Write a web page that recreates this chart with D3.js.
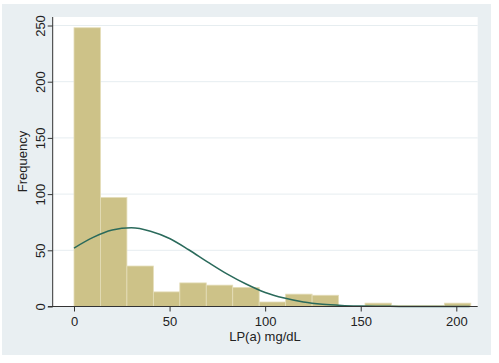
<!DOCTYPE html>
<html>
<head>
<meta charset="utf-8">
<script src="https://cdn.jsdelivr.net/npm/d3@7"></script>
<style>
  body { margin: 0; background: #fff; }
  text { font-family: "Liberation Sans", Arial, sans-serif; fill: #222; }
</style>
</head>
<body>
<svg id="chart"></svg>
<script>
// histogram: bins start at 0, equal width
const binStart = 0;
const binWidth = 13.84;
const binCounts = [248, 97, 36, 13, 21, 19, 17, 4, 11, 10, 0, 3, 1, 1, 3];

// normal overlay
const curveX = [0, 10, 20, 30, 40, 50, 60, 70, 80, 90, 100, 110, 120, 130, 140, 150, 160, 170, 180, 190, 200, 207];
const curveY = [52, 61.5, 68, 70, 67, 60.5, 50.5, 39.5, 29, 20, 12.5, 7.5, 4, 2, 1, 0.5, 0.2, 0.1, 0, 0, 0, 0];

const xTicks = [0, 50, 100, 150, 200];
const yTicks = [0, 50, 100, 150, 200, 250];

const width = 499, height = 363;
const svg = d3.select("#chart").attr("width", width).attr("height", height);

// outer panel + plot area
svg.append("rect").attr("x", 2).attr("y", 4).attr("width", 489).attr("height", 351).attr("fill", "#e9eff2");
svg.append("rect").attr("x", 53).attr("y", 17).attr("width", 424.7).attr("height", 289.5).attr("fill", "#fff");

const x = d3.scaleLinear().domain([0, 200]).range([74, 456.3]);
const y = d3.scaleLinear().domain([0, 250]).range([306.5, 25.5]);

// grid
svg.append("g").selectAll("line")
	.data(yTicks.filter(d => d > 0))
	.join("line")
	.attr("x1", 53).attr("x2", 477.7)
	.attr("y1", d => y(d)).attr("y2", d => y(d))
	.attr("stroke", "#e6edf0").attr("stroke-width", 1);

// bars
svg.append("g").selectAll("rect")
	.data(binCounts)
	.join("rect")
	.attr("x", (d, i) => x(binStart + i * binWidth))
	.attr("width", (d, i) => x(binStart + (i + 1) * binWidth) - x(binStart + i * binWidth))
	.attr("y", d => y(d))
	.attr("height", d => y(0) - y(d))
	.attr("fill", "#cdc288")
	.attr("stroke", "#e4ddb8")
	.attr("stroke-width", 0.8);

// normal curve
const line = d3.line()
	.x((d, i) => x(curveX[i]))
	.y(d => y(d))
	.curve(d3.curveMonotoneX);
svg.append("path")
	.datum(curveY)
	.attr("d", line)
	.attr("fill", "none")
	.attr("stroke", "#2a6a5b")
	.attr("stroke-width", 1.5);

// axes
const xAxis = svg.append("g")
	.attr("transform", "translate(0," + y(0) + ")")
	.call(d3.axisBottom(x).tickValues(xTicks).tickSize(5).tickPadding(5.5).tickSizeOuter(0));
xAxis.select(".domain").attr("d", "M" + (48 - 0) + ",0H477.7");

const yAxis = svg.append("g")
	.attr("transform", "translate(52.7,0)")
	.call(d3.axisLeft(y).tickValues(yTicks).tickSize(5).tickSizeOuter(0));
yAxis.select(".domain").attr("d", "M0,17V306.5");
yAxis.selectAll("text")
	.attr("x", 0).attr("dy", null)
	.attr("text-anchor", "middle")
	.attr("transform", "translate(-8,0) rotate(-90)");

svg.selectAll(".domain, .tick line").attr("stroke", "#333");
svg.selectAll(".tick text").attr("font-size", 13).attr("fill", "#222")
	.style("font-family", "'Liberation Sans', Arial, sans-serif");

// titles
svg.append("text")
	.attr("x", 265).attr("y", 340.5)
	.attr("text-anchor", "middle")
	.attr("font-size", 13)
	.text("LP(a) mg/dL");

svg.append("text")
	.attr("transform", "translate(26.5,161.5) rotate(-90)")
	.attr("text-anchor", "middle")
	.attr("font-size", 13)
	.text("Frequency");
</script>
</body>
</html>
